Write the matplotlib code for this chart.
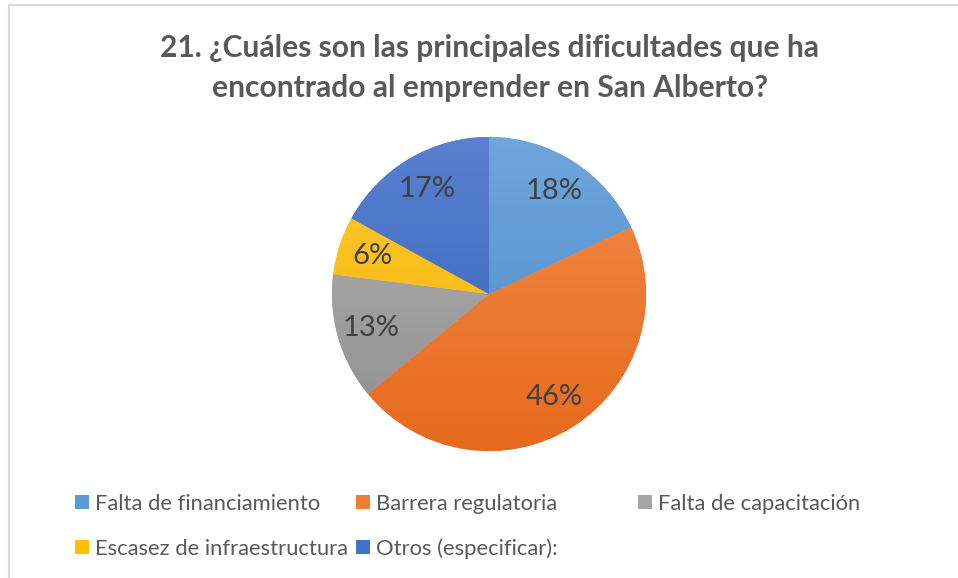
import matplotlib
matplotlib.use("Agg")
import matplotlib.pyplot as plt
import numpy as np
from matplotlib.patches import Rectangle
from matplotlib.colors import to_rgb

categories = ["Falta de financiamiento", "Barrera regulatoria", "Falta de capacitación",
              "Escasez de infraestructura", "Otros (especificar):"]
values = [18, 46, 13, 6, 17]
labels = ["18%", "46%", "13%", "6%", "17%"]
title_lines = ["21. ¿Cuáles son las principales dificultades que ha",
               "encontrado al emprender en San Alberto?"]

top_colors = ["#6FA6DC", "#F38C4C", "#B2B2B2", "#FFC933", "#5A80CF"]
bot_colors = ["#4A8ACB", "#E66A1C", "#8F8F8F", "#F2B400", "#3262BD"]
mid_colors = ["#5B9BD5", "#ED7D31", "#A5A5A5", "#FFC000", "#4472C4"]

W, H = 958, 578
fig = plt.figure(figsize=(W / 100, H / 100), dpi=100)
fig.patch.set_facecolor("white")

FONT = "Lato"

# border
fig.patches.append(Rectangle((9 / W, -0.01), 1.0, (H - 5) / H + 0.01,
                             transform=fig.transFigure, fill=False,
                             edgecolor="#D9D9D9", linewidth=1.5))

# title
fig.text(489.5 / W, 1 - 48 / H, title_lines[0], ha="center", va="center",
         fontsize=21.6, fontweight="bold", color="#595959", family=FONT)
fig.text(489.5 / W, 1 - 88 / H, title_lines[1], ha="center", va="center",
         fontsize=21.6, fontweight="bold", color="#595959", family=FONT)

# pie
cx, cy, r = 489, 294, 157
ax = fig.add_axes([(cx - r) / W, (H - cy - r) / H, 2 * r / W, 2 * r / H])
wedges, texts = ax.pie(values, colors=mid_colors, startangle=90, counterclock=False,
                       labels=labels, labeldistance=0.78, radius=1.0,
                       wedgeprops=dict(linewidth=0),
                       textprops=dict(fontsize=21, color="#404040", family=FONT))
for t in texts:
    t.set_ha("center")
    t.set_va("center")
ax.set_xlim(-1, 1)
ax.set_ylim(-1, 1)
ax.set_aspect("equal")
ax.axis("off")

# vertical gradients clipped to wedges
n = 256
for w, ct, cb in zip(wedges, top_colors, bot_colors):
    a = np.array(to_rgb(ct))
    b = np.array(to_rgb(cb))
    tt = np.linspace(0, 1, n)[:, None]
    grad = (a[None, :] * (1 - tt) + b[None, :] * tt)[:, None, :]
    grad = np.repeat(grad, 2, axis=1)
    im = ax.imshow(grad, extent=(-1, 1, -1, 1), origin="upper", aspect="auto", zorder=1.5)
    im.set_clip_path(w)
for t in texts:
    t.set_zorder(3)

# legend (manual, equal-width columns like Excel)
col_x = [75, 356, 638]
row_y = [502, 547]
for i, name in enumerate(categories):
    c, rr = i % 3, i // 3
    x0 = col_x[c]
    y0 = row_y[rr]
    fig.patches.append(Rectangle((x0 / W, (H - y0 - 7) / H), 14 / W, 14 / H,
                                 transform=fig.transFigure, facecolor=mid_colors[i],
                                 edgecolor="none"))
    fig.text((x0 + 20) / W, 1 - y0 / H, name, ha="left", va="center_baseline",
             fontsize=15.8, color="#595959", family=FONT)

fig.savefig("out.png", dpi=100, facecolor="white")
